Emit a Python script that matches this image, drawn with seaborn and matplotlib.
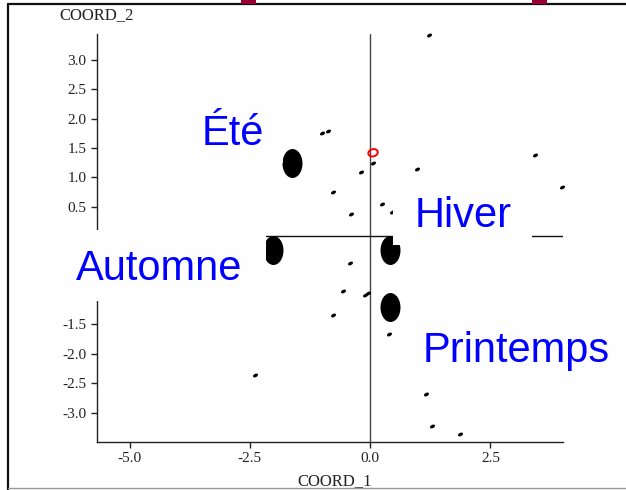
import matplotlib
matplotlib.use("Agg")
import matplotlib.pyplot as plt
from matplotlib.markers import MarkerStyle
from matplotlib.patches import Rectangle
from matplotlib.lines import Line2D
from matplotlib.transforms import Affine2D
import seaborn as sns
import pandas as pd

# Observation scores on the first two axes
obs_x = [1.23, -1.01, -0.87, 0.05, -0.18, 0.98, 3.42, 3.99, -0.78, 0.25,
         -0.39, 0.46, -0.41, -0.56, -0.11, -0.04, -0.77, 0.40, 1.17, 1.28,
         1.86, -2.40]
obs_y = [3.43, 1.75, 1.79, 1.24, 1.10, 1.14, 1.39, 0.83, 0.76, 0.54,
         0.38, 0.42, -0.45, -0.93, -1.00, -0.96, -1.34, -1.67, -2.69, -3.22,
         -3.37, -2.36]

# Season centroids
seasons = ["Été", "Automne", "Hiver", "Printemps"]
season_x = [-1.63, -2.02, 0.42, 0.42]
season_y = [1.24, -0.235, -0.235, -1.21]

# Supplementary point (red ring)
supp_x = [0.06]
supp_y = [1.42]

xticks = [-5.0, -2.5, 0.0, 2.5]
yticks = [-3.0, -2.5, -2.0, -1.5, -1.0, -0.5, 0.0, 0.5, 1.0, 1.5, 2.0, 2.5, 3.0]
# y tick labels that sit beneath the "Automne" label box
ytick_hidden = [-1.0, -0.5, 0.0]
xlim = (-5.68, 4.01)
ylim = (-3.50, 3.44)

sns.set_style("white")
plt.rcParams["axes.unicode_minus"] = False

W, H = 626, 490
fig = plt.figure(figsize=(W / 100, H / 100), dpi=100)
fig.patch.set_facecolor("white")


def fx(px):
    return px / W


def fy(py):
    return 1 - py / H


ax = fig.add_axes([fx(97), fy(442), fx(563) - fx(97), fy(34) - fy(442)])
ax.set_facecolor("white")

# origin reference lines
ax.axvline(0, color="#444444", lw=1.0, zorder=1)
ax.axhline(0, color="#111111", lw=1.0, zorder=1)

obs = pd.DataFrame({"COORD_1": obs_x, "COORD_2": obs_y})
cent = pd.DataFrame({"COORD_1": season_x, "COORD_2": season_y, "saison": seasons})
supp = pd.DataFrame({"COORD_1": supp_x, "COORD_2": supp_y})

small = MarkerStyle("o", transform=Affine2D().scale(1, 0.62).rotate_deg(28))
sns.scatterplot(data=obs, x="COORD_1", y="COORD_2", ax=ax, marker=small,
                s=15, color="black", linewidth=0, zorder=3, clip_on=False)

blob = MarkerStyle("o", transform=Affine2D().scale(1, 1.45))
sns.scatterplot(data=cent, x="COORD_1", y="COORD_2", ax=ax, marker=blob,
                s=207, color="black", linewidth=0, zorder=3)

ring = MarkerStyle("o", transform=Affine2D().scale(1, 0.75).rotate_deg(15))
sns.scatterplot(data=supp, x="COORD_1", y="COORD_2", ax=ax, marker=ring,
                s=48, facecolors="none", edgecolors="red", linewidth=1.4,
                zorder=4)

ax.set_xlim(*xlim)
ax.set_ylim(*ylim)
ax.set_xticks(xticks)
ax.set_yticks(yticks)
ax.set_xticklabels([f"{v:.1f}" for v in xticks])
ax.set_yticklabels(["" if v in ytick_hidden else f"{v:.1f}" for v in yticks])
ax.set_xlabel("")
ax.set_ylabel("")
for s in ["top", "right"]:
    ax.spines[s].set_visible(False)
for s in ["left", "bottom"]:
    ax.spines[s].set_color("#222222")
    ax.spines[s].set_linewidth(1.0)
ax.tick_params(axis="both", direction="out", length=4, width=1,
               color="#222222", pad=3.5, labelsize=11, labelcolor="#222222",
               left=True, bottom=True)
for lab in ax.get_xticklabels() + ax.get_yticklabels():
    lab.set_fontfamily("Liberation Serif")

fig.text(fx(59), fy(15), "COORD_2", family="Liberation Serif", fontsize=12,
         color="#222222", ha="left", va="center")
fig.text(fx(297), fy(481), "COORD_1", family="Liberation Serif", fontsize=12,
         color="#222222", ha="left", va="center")

# label boxes laid over the plot: (left, top, right, bottom) in pixels,
# and the text origin (left, baseline)
boxes = {
    "Été": ((178, 95, 283, 163), (202, 145)),
    "Hiver": ((393, 174, 532, 245), (415, 227)),
    "Automne": ((53, 230, 266, 301), (76, 280)),
    "Printemps": ((403, 308, 626, 380), (423, 362)),
}
for name, ((l, t, r, b), (tx, ty)) in boxes.items():
    fig.add_artist(Rectangle((fx(l), fy(b)), fx(r) - fx(l), fy(t) - fy(b),
                             transform=fig.transFigure, facecolor="#fefefe",
                             edgecolor="none", zorder=5))
    fig.text(fx(tx), fy(ty), name, family="Liberation Sans", fontsize=30,
             color="#0000ff", ha="left", va="baseline", zorder=6)

# frame around the figure
fig.add_artist(Line2D([fx(8), fx(8)], [fy(4), fy(490)], transform=fig.transFigure,
                      color="#111111", lw=1.6, zorder=7))
fig.add_artist(Line2D([fx(8), fx(626)], [fy(4), fy(4)], transform=fig.transFigure,
                      color="#111111", lw=1.6, zorder=7))
fig.add_artist(Line2D([fx(8), fx(626)], [fy(488), fy(488)], transform=fig.transFigure,
                      color="#999999", lw=1.0, zorder=7))
for l, r in [(241, 256), (532, 547)]:
    fig.add_artist(Rectangle((fx(l), fy(4)), fx(r) - fx(l), fy(0) - fy(4),
                             transform=fig.transFigure, facecolor="#990033",
                             edgecolor="none", zorder=8))

fig.savefig("out.png", dpi=100)
